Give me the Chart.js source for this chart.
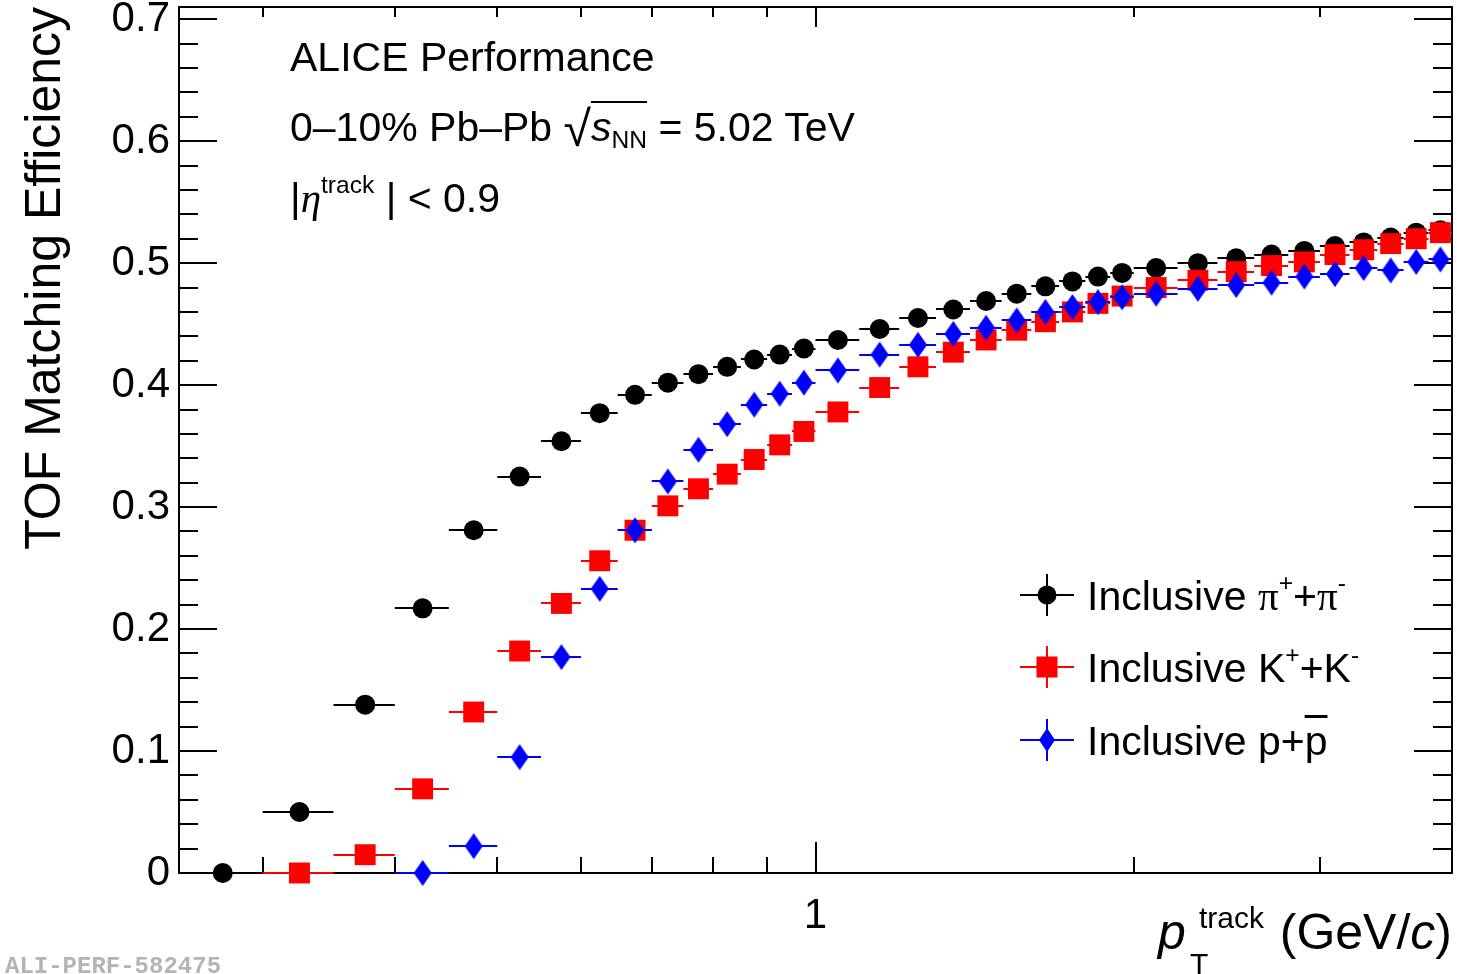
<!DOCTYPE html>
<html>
<head>
<meta charset="utf-8">
<title>TOF Matching Efficiency</title>
<script src="https://cdn.jsdelivr.net/npm/chart.js@4.4.1/dist/chart.umd.min.js"></script>
<style>
  html, body { margin: 0; padding: 0; background: #fff; }
  #wrap { position: relative; width: 1457px; height: 974px; overflow: hidden;
          font-family: 'Liberation Sans', Arial, sans-serif; color: #000; }
  #c { position: absolute; left: 0; top: 0; }
  .t { position: absolute; white-space: nowrap; line-height: 1; }
  .sym { font-family: 'Liberation Serif', serif; }
  .up { font-size: 0.6em; position: relative; top: -0.78em; }
  .dn { font-size: 0.6em; position: relative; top: 0.3em; }
  .ov { text-decoration: overline; text-decoration-thickness: 3px; }
  .rad { border-top: 2px solid #000; padding-top: 1px; }
  #mark { font-family: 'Liberation Mono', monospace; font-weight: bold; color: #b4b4b4; }
</style>
</head>
<body>
<div id="wrap">
  <canvas id="c" width="1457" height="974"></canvas>

  <div class="t" style="left:290px; top:37px; font-size:41px;">ALICE Performance</div>
  <div class="t" style="left:290px; top:99px; font-size:41px;">0&#8211;10% Pb&#8211;Pb <span style="font-size:50px;position:relative;top:5px;">&#8730;</span><span class="rad"><i>s</i><span class="dn">NN</span></span> = 5.02 TeV</div>
  <div class="t" style="left:290px; top:178px; font-size:41px;">|<span class="sym"><i>&#951;</i></span><span class="up">track</span> | &lt; 0.9</div>

  <div class="t" style="left:1087px; top:576px; font-size:41px;">Inclusive <span class="sym">&#960;</span><span class="up">+</span>+<span class="sym">&#960;</span><span class="up">-</span></div>
  <div class="t" style="left:1087px; top:648px; font-size:41px;">Inclusive K<span class="up">+</span>+K<span class="up">-</span></div>
  <div class="t" style="left:1087px; top:721px; font-size:41px;">Inclusive p+<span class="ov">p</span></div>

  <div class="t" style="left:1158px; top:907px; font-size:50px;"><i>p</i></div>
  <div class="t" style="left:1199px; top:903px; font-size:30px;">track</div>
  <div class="t" style="left:1190px; top:949px; font-size:30px;">T</div>
  <div class="t" style="right:5px; top:907px; font-size:50px;">(GeV/<i>c</i>)</div>

  <div class="t" id="mark" style="left:5px; top:955px; font-size:24px;">ALI-PERF-582475</div>
</div>

<script>
// pT bin edges (GeV/c)
const binEdges = [0.25, 0.30, 0.35, 0.40, 0.45, 0.50, 0.55, 0.60, 0.65, 0.70,
                  0.75, 0.80, 0.85, 0.90, 0.95, 1.0, 1.1, 1.2, 1.3, 1.4,
                  1.5, 1.6, 1.7, 1.8, 1.9, 2.0, 2.2, 2.4, 2.6, 2.8,
                  3.0, 3.2, 3.4, 3.6, 3.8, 4.0];

// TOF matching efficiency per bin (null = no point)
const pionEff = [0.000, 0.050, 0.138, 0.217, 0.281, 0.325, 0.354, 0.377, 0.392, 0.402,
                 0.409, 0.415, 0.421, 0.425, 0.430, 0.437, 0.446, 0.455, 0.462, 0.469,
                 0.475, 0.481, 0.485, 0.489, 0.492, 0.496, 0.500, 0.504, 0.507, 0.510,
                 0.514, 0.517, 0.521, 0.525, 0.527];
const kaonEff = [null, 0.000, 0.015, 0.069, 0.132, 0.182, 0.221, 0.256, 0.281, 0.301,
                 0.315, 0.327, 0.339, 0.351, 0.362, 0.378, 0.398, 0.415, 0.427, 0.437,
                 0.445, 0.452, 0.460, 0.467, 0.473, 0.480, 0.486, 0.493, 0.498, 0.501,
                 0.507, 0.511, 0.516, 0.520, 0.525];
const protonEff = [null, null, null, 0.000, 0.022, 0.095, 0.177, 0.233, 0.281, 0.321,
                   0.347, 0.368, 0.384, 0.393, 0.402, 0.412, 0.425, 0.433, 0.442, 0.447,
                   0.453, 0.460, 0.464, 0.468, 0.472, 0.475, 0.479, 0.482, 0.484, 0.489,
                   0.491, 0.496, 0.494, 0.501, 0.503];

// axis ticks
const xTickValues = [0.3, 0.4, 0.5, 0.6, 0.7, 0.8, 0.9, 1, 2, 3];
const xLabelValues = [1];
const yMajorTicks = [0, 0.1, 0.2, 0.3, 0.4, 0.5, 0.6, 0.7];
const yMinorPerMajor = 5;

const FONT = "'Liberation Sans', Arial, sans-serif";

// elongated full-diamond marker
function makeDiamond(w, h, color) {
  const cv = document.createElement('canvas');
  cv.width = w + 2; cv.height = h + 2;
  const g = cv.getContext('2d');
  g.fillStyle = color;
  g.beginPath();
  g.moveTo(cv.width / 2, 1);
  g.lineTo(cv.width - 1, cv.height / 2);
  g.lineTo(cv.width / 2, cv.height - 1);
  g.lineTo(1, cv.height / 2);
  g.closePath();
  g.fill();
  return cv;
}
const diamond = makeDiamond(18, 26, '#0000ff');

function toPoints(values) {
  const pts = [];
  values.forEach((v, i) => {
    if (v !== null) pts.push({ x: (binEdges[i] + binEdges[i + 1]) / 2, y: v, lo: binEdges[i], hi: binEdges[i + 1] });
  });
  return pts;
}

const series = [
  { label: 'Inclusive \u03c0+ + \u03c0-', values: pionEff, color: '#000000', style: 'circle', radius: 10, order: 3 },
  { label: 'Inclusive K+ + K-', values: kaonEff, color: '#ff0000', style: 'rect', radius: 14.8, order: 2 },
  { label: 'Inclusive p + pbar', values: protonEff, color: '#0000ff', style: diamond, radius: 13, order: 1 }
];

// horizontal bin-width bars, drawn under each dataset's markers
const binBars = {
  id: 'binBars',
  beforeDatasetDraw(chart, args) {
    const { ctx, scales: { x, y } } = chart;
    const ds = chart.data.datasets[args.index];
    ctx.save();
    ctx.strokeStyle = ds.borderColor;
    ctx.lineWidth = 2;
    ds.data.forEach(p => {
      const py = Math.round(y.getPixelForValue(p.y));
      ctx.beginPath();
      ctx.moveTo(x.getPixelForValue(p.lo), py);
      ctx.lineTo(x.getPixelForValue(p.hi), py);
      ctx.stroke();
    });
    ctx.restore();
  }
};

function drawMarker(ctx, kind, cx, cy) {
  ctx.save();
  if (kind === 'circle') {
    ctx.fillStyle = '#000';
    ctx.beginPath(); ctx.arc(cx, cy, 9.5, 0, Math.PI * 2); ctx.fill();
  } else if (kind === 'rect') {
    ctx.fillStyle = '#ff0000';
    ctx.fillRect(cx - 10.5, cy - 10.5, 21, 21);
  } else {
    ctx.drawImage(makeDiamond(16, 24, '#0000ff'), cx - 9, cy - 13);
  }
  ctx.restore();
}

// frame with inward ticks on all four sides, plus legend symbols
const rootFrame = {
  id: 'rootFrame',
  beforeDatasetsDraw(chart) {
    const { ctx, chartArea: a, scales: { x, y } } = chart;
    ctx.save();
    ctx.strokeStyle = '#000';
    ctx.lineWidth = 2;
    ctx.strokeRect(a.left, a.top, a.right - a.left, a.bottom - a.top);
    ctx.beginPath();
    xTickValues.forEach(v => {
      const px = Math.round(x.getPixelForValue(v));
      const major = xLabelValues.includes(v);
      ctx.moveTo(px, a.bottom); ctx.lineTo(px, a.bottom - (major ? 31 : 16));
      ctx.moveTo(px, a.top); ctx.lineTo(px, a.top + (major ? 20 : 10));
    });
    for (let i = 0; i < yMajorTicks.length; i++) {
      const v0 = yMajorTicks[i];
      const step = i + 1 < yMajorTicks.length ? yMajorTicks[i + 1] - v0 : yMajorTicks[1] - yMajorTicks[0];
      for (let k = 0; k < yMinorPerMajor; k++) {
        const v = v0 + step * k / yMinorPerMajor;
        if (v > y.max + 1e-9) continue;
        const py = Math.round(y.getPixelForValue(v));
        const len = k === 0 ? 38 : 19;
        ctx.moveTo(a.left, py); ctx.lineTo(a.left + len, py);
        ctx.moveTo(a.right, py); ctx.lineTo(a.right - len, py);
      }
    }
    ctx.stroke();
    ctx.restore();
  },
  afterDraw(chart) {
    const { ctx } = chart;
    const rows = [['circle', '#000000', 595], ['rect', '#ff0000', 667], ['diamond', '#0000ff', 740]];
    rows.forEach(([kind, color, cy]) => {
      ctx.save();
      ctx.strokeStyle = color; ctx.lineWidth = 2;
      ctx.beginPath();
      ctx.moveTo(1020, cy); ctx.lineTo(1074, cy);
      ctx.moveTo(1047, cy - 21); ctx.lineTo(1047, cy + 21);
      ctx.stroke();
      ctx.restore();
      drawMarker(ctx, kind, 1047, cy);
    });
  }
};

const chart = new Chart(document.getElementById('c'), {
  type: 'scatter',
  data: {
    datasets: series.map(s => ({
      label: s.label,
      data: toPoints(s.values),
      pointStyle: s.style,
      pointRadius: s.radius,
      backgroundColor: s.color,
      borderColor: s.color,
      pointBorderWidth: 0,
      borderWidth: 0,
      showLine: false,
      clip: false,
      order: s.order
    }))
  },
  options: {
    responsive: false,
    animation: false,
    devicePixelRatio: 1,
    events: [],
    layout: { autoPadding: false, padding: { left: 0, right: 5, top: 7, bottom: 0 } },
    plugins: { legend: { display: false }, tooltip: { enabled: false } },
    scales: {
      x: {
        type: 'logarithmic', min: 0.25, max: 4,
        grid: { display: false, drawTicks: false }, border: { display: false },
        ticks: { font: { family: FONT, size: 42 }, color: '#000', padding: 18,
                 maxRotation: 0, autoSkip: false, callback: v => String(v) },
        afterBuildTicks: s => { s.ticks = xLabelValues.map(v => ({ value: v })); },
        afterFit: s => { s.height = 101; s.paddingLeft = 0; s.paddingRight = 0; }
      },
      y: {
        type: 'linear', min: 0, max: 0.71,
        grid: { display: false, drawTicks: false }, border: { display: false },
        ticks: { font: { family: FONT, size: 42 }, color: '#000', padding: 9,
                 callback: v => (v === 0 ? '0' : Number(v).toFixed(1)) },
        afterBuildTicks: s => { s.ticks = yMajorTicks.map(v => ({ value: v })); },
        afterFit: s => { s.width = 179; s.paddingTop = 0; s.paddingBottom = 0; },
        title: { display: true, text: 'TOF Matching Efficiency', align: 'end', color: '#000',
                 font: { family: FONT, size: 50 }, padding: { top: 16, bottom: 0 } }
      }
    }
  },
  plugins: [binBars, rootFrame]
});
</script>
</body>
</html>
